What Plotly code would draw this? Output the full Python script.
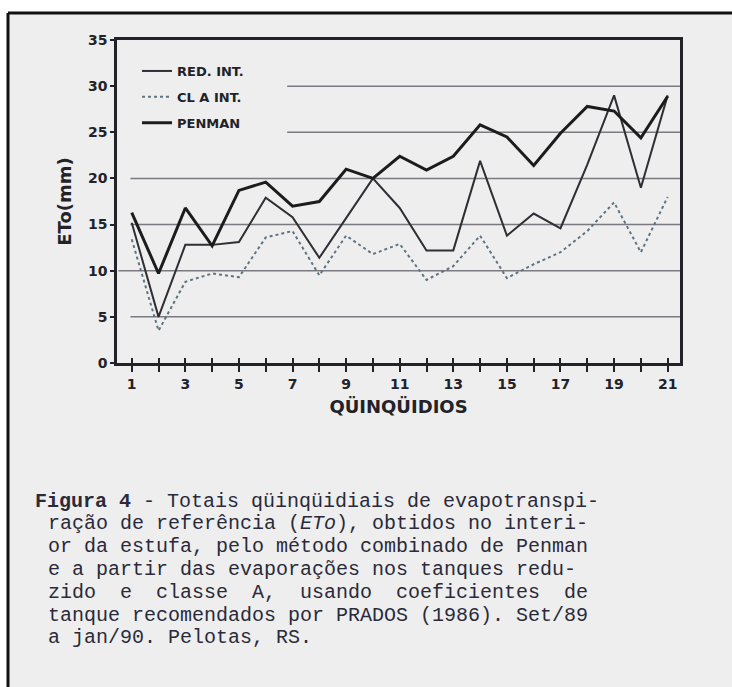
import plotly.graph_objects as go

# ---------------- data ----------------
quinquidios = list(range(1, 22))
red_int = [15.2, 5.0, 12.8, 12.8, 13.1, 17.9, 15.8, 11.4, 15.7, 20.0, 16.8,
           12.2, 12.2, 21.9, 13.8, 16.2, 14.6, 21.5, 29.0, 19.0, 29.0]
cla_int = [13.4, 3.5, 8.8, 9.7, 9.3, 13.6, 14.3, 9.5, 13.8, 11.8, 12.9,
           9.0, 10.5, 13.8, 9.2, 10.7, 12.0, 14.3, 17.4, 12.0, 18.0]
penman = [16.3, 9.7, 16.8, 12.7, 18.7, 19.6, 17.0, 17.5, 21.0, 20.0, 22.4,
          20.9, 22.4, 25.8, 24.5, 21.4, 24.9, 27.8, 27.3, 24.4, 28.9]
series_names = ["RED. INT.", "CL A INT.", "PENMAN"]
x_tick_vals = list(range(1, 22))
x_tick_text = [str(v) if v % 2 == 1 else "" for v in x_tick_vals]
y_tick_vals = [0, 5, 10, 15, 20, 25, 30, 35]

caption_lines = [
    "<b>Figura 4</b> - Totais qüinqüidiais de evapotranspi-",
    "ração de referência (<i>ETo</i>), obtidos no interi-",
    "or da estufa, pelo método combinado de Penman",
    "e a partir das evaporações nos tanques redu-",
    "zido\u00a0\u00a0e\u00a0\u00a0classe\u00a0\u00a0A,\u00a0\u00a0usando\u00a0\u00a0coeficientes\u00a0\u00a0de",
    "tanque recomendados por PRADOS (1986). Set/89",
    "a jan/90. Pelotas, RS.",
]

# ---------------- layout geometry ----------------
W, H = 732, 687
L, R, T, B = 117, 52, 40, 324
PW, PH = W - L - R, H - T - B


def px_x(px):
    return (px - L) / PW


def px_y(py):
    return 1 - (py - T) / PH


ink = "#222228"
fig = go.Figure()

fig.add_trace(go.Scatter(x=quinquidios, y=red_int, mode="lines", name=series_names[0],
                         legendgroup="a", line=dict(color="#2e2e34", width=2)))
fig.add_trace(go.Scatter(x=quinquidios, y=cla_int, mode="lines", name=series_names[1],
                         legendgroup="b", line=dict(color="#5f7482", width=2, dash="dot")))
fig.add_trace(go.Scatter(x=quinquidios, y=penman, mode="lines", name=series_names[2],
                         legendgroup="c", line=dict(color="#1c1c1c", width=3)))

# dummy trace for the inner tick marks axis
fig.add_trace(go.Scatter(x=[1], y=[None], xaxis="x2", showlegend=False, hoverinfo="skip"))

shapes = []
# page frame: grey page with black top and left borders
shapes.append(dict(type="rect", xref="paper", yref="paper",
                   x0=px_x(8), x1=px_x(732), y0=px_y(687), y1=px_y(13),
                   fillcolor="#eeeeee", line=dict(width=0), layer="below"))
shapes.append(dict(type="line", xref="paper", yref="paper",
                   x0=px_x(8), x1=px_x(732), y0=px_y(13), y1=px_y(13),
                   line=dict(color="#111111", width=3), layer="below"))
shapes.append(dict(type="line", xref="paper", yref="paper",
                   x0=px_x(8), x1=px_x(8), y0=px_y(687), y1=px_y(13),
                   line=dict(color="#111111", width=3), layer="below"))
# horizontal guide lines
for yv, x0 in [(5, 0.95), (10, 0.5), (15, 0.95), (20, 0.95), (25, 6.8), (30, 6.8)]:
    shapes.append(dict(type="line", xref="x", yref="y", x0=x0, x1=21.46, y0=yv, y1=yv,
                       line=dict(color="#7a7a80", width=1.5), layer="below"))

annotations = []
for i, line in enumerate(caption_lines):
    annotations.append(dict(xref="paper", yref="paper", x=px_x(33 if i == 0 else 46),
                            y=px_y(501 + i * 22.8),
                            xanchor="left", yanchor="middle", showarrow=False, text=line,
                            font=dict(family="Liberation Mono, Courier New, monospace",
                                      size=20, color="#2a2a3a")))

fig.update_layout(
    width=W, height=H,
    margin=dict(l=L, r=R, t=T, b=B),
    paper_bgcolor="white",
    plot_bgcolor="rgba(0,0,0,0)",
    shapes=shapes,
    annotations=annotations,
    showlegend=True,
    legend=dict(x=px_x(137), y=px_y(56), xanchor="left", yanchor="top",
                bgcolor="rgba(0,0,0,0)", tracegroupgap=6,
                font=dict(family="DejaVu Sans", size=13, color=ink, weight="bold")),
    xaxis=dict(range=[0.45, 21.46], tickmode="array", tickvals=x_tick_vals,
               ticktext=x_tick_text, ticks="outside", ticklen=6, tickwidth=2,
               tickcolor=ink, showgrid=False, zeroline=False,
               showline=True, linecolor=ink, linewidth=2.5, mirror=True,
               tickfont=dict(family="DejaVu Sans", size=14, color=ink, weight="bold"),
               title=dict(text="QÜINQÜIDIOS", standoff=10,
                          font=dict(family="DejaVu Sans", size=18, color=ink, weight="bold"))),
    xaxis2=dict(overlaying="x", anchor="y", side="bottom", matches="x",
                tickmode="array", tickvals=x_tick_vals, showticklabels=False,
                ticks="inside", ticklen=5, tickwidth=2, tickcolor=ink,
                showgrid=False, zeroline=False, showline=False),
    yaxis=dict(range=[0, 35], tickmode="array", tickvals=y_tick_vals,
               ticks="outside", ticklen=4, tickwidth=1.5, tickcolor=ink,
               showgrid=False, zeroline=False,
               showline=True, linecolor=ink, linewidth=2.5, mirror=True,
               tickfont=dict(family="DejaVu Sans", size=14, color=ink, weight="bold"),
               title=dict(text="ETo(mm)", standoff=12,
                          font=dict(family="DejaVu Sans", size=18, color=ink, weight="bold"))),
)

fig.write_html("out.html", config={"displayModeBar": False},
               post_script="document.body.style.margin='0';document.body.style.overflow='hidden';")
